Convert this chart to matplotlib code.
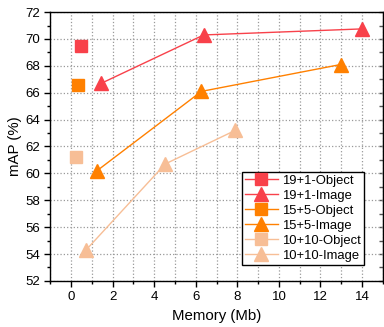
import numpy as np
import matplotlib
matplotlib.use("Agg")
import matplotlib.pyplot as plt
from matplotlib.ticker import MultipleLocator

plt.rcParams['font.family'] = ['Liberation Sans', 'DejaVu Sans']

# data
obj_19_1_x = [0.48]
obj_19_1_y = [69.5]
img_19_1_x = [1.45, 6.38, 14.0]
img_19_1_y = [66.7, 70.3, 70.75]

obj_15_5_x = [0.32]
obj_15_5_y = [66.6]
img_15_5_x = [1.25, 6.27, 12.97]
img_15_5_y = [60.2, 66.1, 68.1]

obj_10_10_x = [0.24]
obj_10_10_y = [61.2]
img_10_10_x = [0.72, 4.53, 7.9]
img_10_10_y = [54.3, 60.7, 63.2]

RED = '#F8414A'
ORANGE = '#FF8000'
PEACH = '#F7BE96'

fig = plt.figure(figsize=(3.84, 3.27), dpi=100)
ax = fig.add_axes([0.131, 0.141, 0.866, 0.822])

ax.plot(obj_19_1_x, obj_19_1_y, '-s', color=RED, ms=8.5, lw=1, label='19+1-Object')
ax.plot(img_19_1_x, img_19_1_y, '-^', color=RED, ms=10.5, lw=1, label='19+1-Image')
ax.plot(obj_15_5_x, obj_15_5_y, '-s', color=ORANGE, ms=8.5, lw=1, label='15+5-Object')
ax.plot(img_15_5_x, img_15_5_y, '-^', color=ORANGE, ms=10.5, lw=1, label='15+5-Image')
ax.plot(obj_10_10_x, obj_10_10_y, '-s', color=PEACH, ms=8.5, lw=1, label='10+10-Object')
ax.plot(img_10_10_x, img_10_10_y, '-^', color=PEACH, ms=10.5, lw=1, label='10+10-Image')

ax.set_xlim(-1, 15)
ax.set_ylim(52, 72)
ax.xaxis.set_major_locator(MultipleLocator(2))
ax.xaxis.set_minor_locator(MultipleLocator(1))
ax.yaxis.set_major_locator(MultipleLocator(2))
ax.yaxis.set_minor_locator(MultipleLocator(1))

ax.grid(True, which='major', axis='both', color='#999999', ls=':', lw=0.9)
ax.grid(True, which='minor', axis='x', color='#999999', ls=':', lw=0.9)
ax.set_axisbelow(True)

ax.tick_params(which='both', direction='out', left=True, bottom=True,
               right=False, top=False, labelsize=9.5, width=1)
ax.tick_params(which='major', length=4)
ax.tick_params(which='minor', length=2.5)
for s in ax.spines.values():
    s.set_linewidth(1)

# inward ticks on the right side
sec = ax.secondary_yaxis('right')
sec.yaxis.set_major_locator(MultipleLocator(1))
sec.tick_params(direction='in', length=3, labelright=False, width=1, color='#555555')

ax.set_xlabel('Memory (Mb)', fontsize=10.8)
ax.set_ylabel('mAP (%)', fontsize=10.8, labelpad=2)

leg = ax.legend(loc='lower right', bbox_to_anchor=(0.942, 0.058), fontsize=9.4,
                fancybox=False, edgecolor='black', framealpha=1,
                handlelength=2.5, handletextpad=0.3, labelspacing=0.22,
                borderpad=0.25, borderaxespad=0)
leg.get_frame().set_linewidth(1)

fig.savefig('out.png', dpi=100)
